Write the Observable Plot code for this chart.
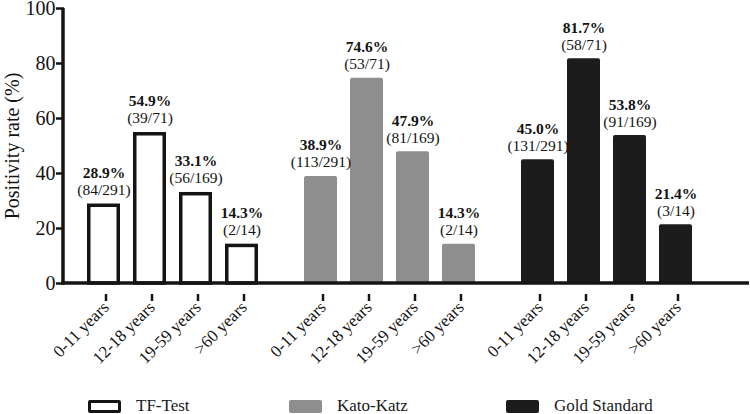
<!DOCTYPE html>
<html>
<head>
<meta charset="utf-8">
<script src="https://cdn.jsdelivr.net/npm/d3@7"></script>
<script src="https://cdn.jsdelivr.net/npm/@observablehq/plot@0.6"></script>
<style>
  html, body { margin: 0; padding: 0; background: #fff; }
  body { width: 750px; height: 414px; overflow: hidden; font-family: "Liberation Serif", Tinos, "Times New Roman", "DejaVu Serif", serif; color: #1a1a1a; }
  #chart svg { display: block; }
  #chart svg text { font-family: "Liberation Serif", Tinos, "Times New Roman", "DejaVu Serif", serif; }
  #legend { position: relative; width: 750px; height: 26px; font-size: 17px; }
  .item { position: absolute; top: 9px; display: flex; align-items: center; height: 18px; }
  .swatch { width: 33px; height: 13px; border-radius: 2px; box-sizing: border-box; margin-right: 15px; }
</style>
</head>
<body>
<div id="chart"></div>
<div id="legend">
  <div class="item" style="left:88px"><div class="swatch" style="background:#fff;border:3.5px solid #141414"></div><span>TF-Test</span></div>
  <div class="item" style="left:289px"><div class="swatch" style="background:#8e8e8e"></div><span>Kato-Katz</span></div>
  <div class="item" style="left:506px"><div class="swatch" style="background:#1c1c1c"></div><span>Gold Standard</span></div>
</div>
<script>
const groups = ["TF-Test", "Kato-Katz", "Gold Standard"];
const ages = ["0-11 years", "12-18 years", "19-59 years", ">60 years"];
const tfValues = [28.9, 54.9, 33.1, 14.3];
const tfFractions = ["84/291", "39/71", "56/169", "2/14"];
const kkValues = [38.9, 74.6, 47.9, 14.3];
const kkFractions = ["113/291", "53/71", "81/169", "2/14"];
const gsValues = [45.0, 81.7, 53.8, 21.4];
const gsFractions = ["131/291", "58/71", "91/169", "3/14"];
const yTicks = [0, 20, 40, 60, 80, 100];

const seriesValues = [tfValues, kkValues, gsValues];
const seriesFractions = [tfFractions, kkFractions, gsFractions];
const rows = [];
groups.forEach((g, gi) => ages.forEach((a, ai) => rows.push({
  group: g, age: a, value: seriesValues[gi][ai], frac: seriesFractions[gi][ai]
})));

const fillOf = {"TF-Test": "#ffffff", "Kato-Katz": "#8e8e8e", "Gold Standard": "#1c1c1c"};
const ink = "#141414";
const fmt = d3.format(".1f");
const serif = "'Liberation Serif', Tinos, 'Times New Roman', 'DejaVu Serif', serif";

const plot = Plot.plot({
  width: 750,
  height: 388,
  marginLeft: 63,
  marginRight: 34.5,
  marginTop: 8,
  marginBottom: 105,
  style: {fontFamily: serif, color: ink, background: "white", overflow: "visible"},
  fx: {domain: groups, padding: 0, axis: null, label: null},
  x: {domain: ages, paddingInner: 0.293, paddingOuter: 0.475, label: null},
  y: {domain: [0, 100], label: null},
  marks: [
    Plot.barY(rows.filter(d => d.group === "TF-Test"), {
      fx: "group", x: "age", y: "value",
      fill: "#ffffff", stroke: ink, strokeWidth: 3.5,
      insetLeft: 1.75, insetRight: 1.75, insetTop: 1.75, insetBottom: 0
    }),
    Plot.barY(rows.filter(d => d.group !== "TF-Test"), {
      fx: "group", x: "age", y: "value",
      fill: d => fillOf[d.group], rx: 2
    }),
    Plot.text(rows, {
      fx: "group", x: "age", y: "value",
      text: d => `(${d.frac})`, dy: -14, fontSize: 15.5, fill: ink
    }),
    Plot.text(rows, {
      fx: "group", x: "age", y: "value",
      text: d => `${fmt(d.value)}%`, dy: -31, fontSize: 15.5, fontWeight: "bold", fill: ink
    }),
    Plot.axisX({tickRotate: -45, tickSize: 7, tickPadding: 3, dy: 11, dx: 2, fontSize: 17, strokeWidth: 2.5, label: null}),
    Plot.axisY({ticks: yTicks, tickSize: 8, tickPadding: 1, fontSize: 20, strokeWidth: 2.5,
      label: "Positivity rate (%)", labelAnchor: "center", labelOffset: 60, labelArrow: "none"})
  ]
});

document.getElementById("chart").appendChild(plot);

const svg = d3.select(plot.tagName.toLowerCase() === "svg" ? plot : plot.querySelector("svg"));
const ys = plot.scale("y");
const y0 = ys.apply(0), y100 = ys.apply(100);
svg.append("line").attr("x1", 63).attr("x2", 63).attr("y1", y100).attr("y2", y0 + 1.75)
  .attr("stroke", ink).attr("stroke-width", 3.5);
svg.append("line").attr("x1", 61.25).attr("x2", 749).attr("y1", y0).attr("y2", y0)
  .attr("stroke", ink).attr("stroke-width", 3.5);
</script>
</body>
</html>
